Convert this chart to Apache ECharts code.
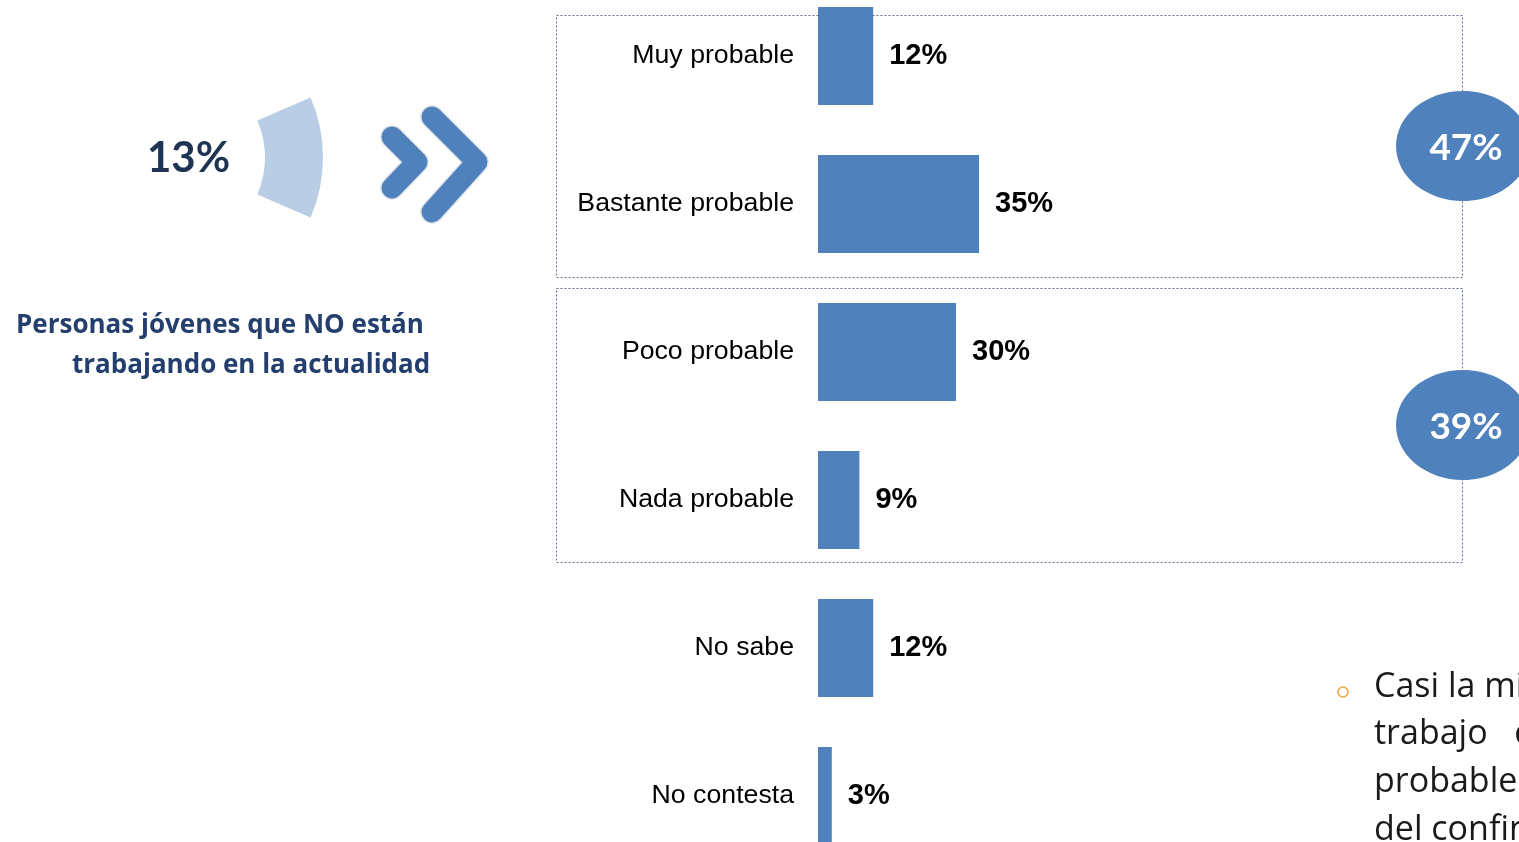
<!DOCTYPE html>
<html>
<head>
<meta charset="utf-8">
<script src="https://cdn.jsdelivr.net/npm/echarts@6/dist/echarts.min.js"></script>
<style>
html,body{margin:0;padding:0;background:#fff;overflow:hidden;width:1519px;height:842px;position:relative;}
#chart{position:absolute;left:0;top:-40px;width:1519px;height:922px;}
</style>
</head>
<body>
<div id="chart"></div>
<script>
const categories = ['Muy probable', 'Bastante probable', 'Poco probable', 'Nada probable', 'No sabe', 'No contesta'];
const values = [12, 35, 30, 9, 12, 3];
const groupTotals = [47, 39];
const noWorkShare = 13;
const leftTitle = ['Personas jóvenes que NO están', 'trabajando en la actualidad'];
const noteLines = ['Casi la mitad', 'trabajo   considera', 'probable', 'del confinamiento'];

const OFF = 40; // container is shifted up by this many px
const BLUE = '#4F81BD';
const chart = echarts.init(document.getElementById('chart'), null, {renderer: 'canvas'});

const dotted = {stroke: '#5d6c8a', lineWidth: 1, lineDash: [2, 2], fill: 'none'};

const graphics = [
  {type: 'rect', z: 0, shape: {x: 556.5, y: 15.5 + OFF, width: 906, height: 262}, style: dotted},
  {type: 'rect', z: 0, shape: {x: 556.5, y: 288.5 + OFF, width: 906, height: 274}, style: dotted},
  {type: 'ellipse', z: 10, shape: {cx: 1463, cy: 146 + OFF, rx: 67, ry: 55}, style: {fill: BLUE}},
  {type: 'ellipse', z: 10, shape: {cx: 1463, cy: 425 + OFF, rx: 67, ry: 55}, style: {fill: BLUE}},
  {type: 'text', z: 11, x: 1466, y: 148 + OFF, style: {text: groupTotals[0] + '%', fill: '#fff', font: 'bold 37px Lato', textAlign: 'center', textVerticalAlign: 'middle'}},
  {type: 'text', z: 11, x: 1466, y: 427 + OFF, style: {text: groupTotals[1] + '%', fill: '#fff', font: 'bold 37px Lato', textAlign: 'center', textVerticalAlign: 'middle'}},
  {type: 'text', z: 5, x: 147, y: 158 + OFF, style: {text: noWorkShare + '%', fill: '#1F3452', font: 'bold 42px Lato', textAlign: 'left', textVerticalAlign: 'middle'}},
  {type: 'polyline', z: 4, shape: {points: [[392, 137 + OFF], [417, 162 + OFF], [392, 188 + OFF]]}, style: {stroke: '#e4e6ea', lineWidth: 24, lineCap: 'round', lineJoin: 'round', fill: 'none'}},
  {type: 'polyline', z: 4, shape: {points: [[432, 117 + OFF], [477, 162 + OFF], [432, 212 + OFF]]}, style: {stroke: '#e4e6ea', lineWidth: 24, lineCap: 'round', lineJoin: 'round', fill: 'none'}},
  {type: 'polyline', z: 5, shape: {points: [[392, 137 + OFF], [417, 162 + OFF], [392, 188 + OFF]]}, style: {stroke: BLUE, lineWidth: 21, lineCap: 'round', lineJoin: 'round', fill: 'none'}},
  {type: 'polyline', z: 5, shape: {points: [[432, 117 + OFF], [477, 162 + OFF], [432, 212 + OFF]]}, style: {stroke: BLUE, lineWidth: 21, lineCap: 'round', lineJoin: 'round', fill: 'none'}},
  {type: 'text', z: 5, x: 16, y: 326 + OFF, style: {text: leftTitle[0], fill: '#243F6E', font: 'bold 26px "Open Sans"', textAlign: 'left', textVerticalAlign: 'middle'}},
  {type: 'text', z: 5, x: 72, y: 366 + OFF, style: {text: leftTitle[1], fill: '#243F6E', font: 'bold 26px "Open Sans"', textAlign: 'left', textVerticalAlign: 'middle'}},
  {type: 'circle', z: 5, shape: {cx: 1343, cy: 692 + OFF, r: 5}, style: {stroke: '#EDA33A', lineWidth: 1.5, fill: 'none'}}
];
noteLines.forEach(function (t, i) {
  graphics.push({type: 'text', z: 5, x: 1374, y: 687 + OFF + i * 47.7, style: {text: t, fill: '#1a1a1a', font: '34px "Open Sans"', textAlign: 'left', textVerticalAlign: 'middle'}});
});

chart.setOption({
  animation: false,
  grid: {left: 818, width: 460, top: OFF - 18, height: 888, containLabel: false},
  xAxis: {type: 'value', min: 0, max: 100, show: false},
  yAxis: {
    type: 'category', data: categories, inverse: true,
    axisLine: {show: false}, axisTick: {show: false},
    axisLabel: {color: '#000', fontSize: 26.7, fontFamily: 'Liberation Sans, Arial', margin: 24, padding: [4, 0, 0, 0]}
  },
  series: [
    {
      type: 'bar', data: values, barWidth: 98, z: 3,
      itemStyle: {color: BLUE},
      label: {show: true, position: 'right', distance: 16, formatter: '{c}%', color: '#000', fontSize: 29, fontWeight: 'bold', fontFamily: 'Liberation Sans, Arial', padding: [4, 0, 0, 0]},
      silent: true
    },
    {
      type: 'pie', center: [172, 157.5 + OFF], radius: [93, 151], startAngle: noWorkShare / 100 * 180, clockwise: true,
      silent: true, label: {show: false}, labelLine: {show: false},
      data: [
        {value: noWorkShare, itemStyle: {color: '#B9CDE5'}},
        {value: 100 - noWorkShare, itemStyle: {color: 'rgba(0,0,0,0)'}}
      ]
    }
  ],
  graphic: graphics
});
</script>
</body>
</html>
